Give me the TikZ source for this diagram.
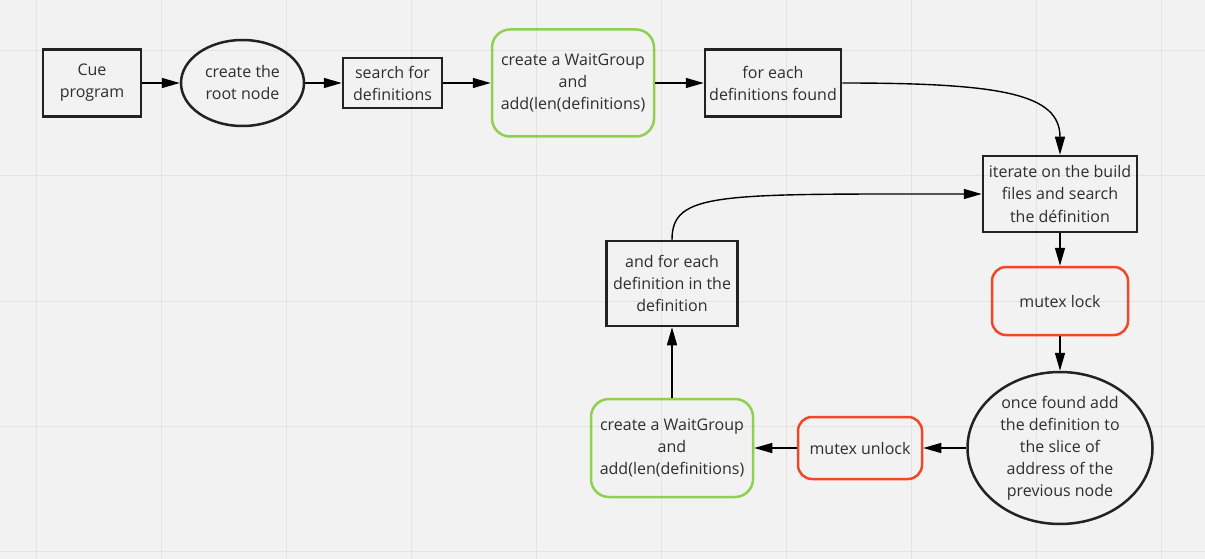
\documentclass[tikz,border=0pt]{standalone}
\usepackage{fontspec}
\setmainfont{Open Sans}
\usetikzlibrary{arrows.meta,shapes.geometric}
\definecolor{bg}{HTML}{F2F2F2}
\definecolor{gridc}{HTML}{E3E3E3}
\definecolor{txt}{HTML}{2E2E2E}
\definecolor{border}{HTML}{222222}
\definecolor{mgreen}{HTML}{8FD14F}
\definecolor{mred}{HTML}{F24726}
\tikzset{
  base/.style={inner sep=0pt, align=center, text=txt, line width=2.5pt,
    font=\fontsize{16}{22}\selectfont},
  sqbox/.style={base, draw=border, rectangle},
  ovbox/.style={base, draw=border, ellipse},
  gbox/.style={base, draw=mgreen, rectangle, rounded corners=18pt},
  rbox/.style={base, draw=mred, rectangle, rounded corners=14pt},
  conn/.style={line width=1.4pt, draw=black, -{Triangle[length=18pt,width=10pt]}},
}
\begin{document}
\begin{tikzpicture}[x=1pt,y=-1pt]
\fill[bg] (0,0) rectangle (1205,559);
\useasboundingbox (0,0) rectangle (1205,559);
\foreach \gx in {36,161,...,1161} \draw[gridc, line width=1pt] (\gx,0) -- (\gx,559);
\foreach \gy in {51,176,301,426,551} \draw[gridc, line width=1pt] (0,\gy) -- (1205,\gy);

\node[sqbox, minimum width=98pt, minimum height=67pt] (cue) at (92,83) {Cue\\program};
\node[ovbox, minimum width=123pt, minimum height=86pt] (root) at (242.5,83) {create the\\root node};
\node[sqbox, minimum width=99pt, minimum height=50pt] (search) at (392.5,83) {search for\\definitions};
\node[gbox, minimum width=162pt, minimum height=107pt] (wg1) at (573,83) {create a WaitGroup\\and\\add(len(definitions)};
\node[sqbox, minimum width=136pt, minimum height=67pt] (fe) at (773,83) {for each\\definitions found};
\node[sqbox, minimum width=154pt, minimum height=76pt] (iter) at (1060,194) {iterate on the build\\files and search\\the définition};
\node[rbox, minimum width=136pt, minimum height=68pt] (lock) at (1060,301) {mutex lock};
\node[ovbox, minimum width=185pt, minimum height=152pt] (circ) at (1060,448) {once found add\\the definition to\\the slice of\\address of the\\previous node};
\node[rbox, minimum width=124pt, minimum height=62pt] (unlock) at (860,448) {mutex unlock};
\node[gbox, minimum width=162pt, minimum height=98pt] (wg2) at (672,448) {create a WaitGroup\\and\\add(len(definitions)};
\node[sqbox, minimum width=131pt, minimum height=85pt] (af) at (672,283.5) {and for each\\definition in the\\definition};

\draw[conn] (cue.east) -- (root.west);
\draw[conn] (root.east) -- (search.west);
\draw[conn] (search.east) -- (wg1.west);
\draw[conn] (wg1.east) -- (fe.west);
\draw[conn] (fe.east) .. controls +(159,0) and +(0,-61) .. (iter.north);
\draw[conn] (iter.south) -- (lock.north);
\draw[conn] (lock.south) -- (circ.north);
\draw[conn] (circ.west) -- (unlock.east);
\draw[conn] (unlock.west) -- (wg2.east);
\draw[conn] (wg2.north) -- (af.south);
\draw[conn] (af.north) .. controls +(0,-48) and +(-263,0) .. (iter.west);
\end{tikzpicture}
\end{document}
